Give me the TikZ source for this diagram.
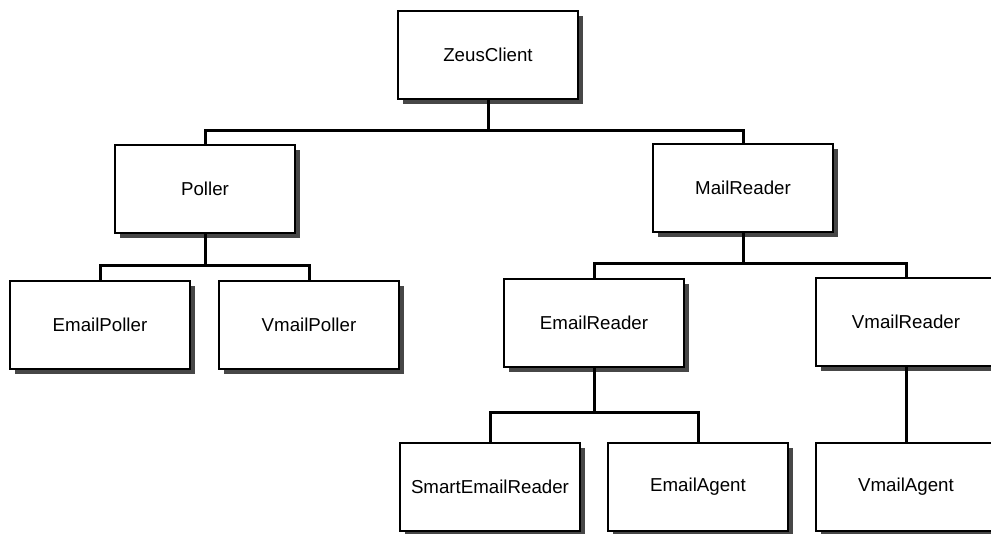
\documentclass[tikz,border=0pt]{standalone}
\usepackage{fontspec}
\setmainfont{Liberation Sans}
\usepackage{tikz}
\usetikzlibrary{shadows}

\begin{document}
\begin{tikzpicture}[x=1pt, y=-1pt,
    cls/.style={draw, line width=1.4pt, fill=white, inner sep=0pt,
      minimum width=180pt, minimum height=88pt,
      font=\fontsize{18.7}{20}\selectfont,
      drop shadow={shadow xshift=5pt, shadow yshift=-5pt, fill=black!72, opacity=1}},
    link/.style={line width=3pt}]
  \useasboundingbox (0,0) rectangle (991,534);

  \node[cls] (zeus)  at (488, 55)  {ZeusClient};
  \node[cls] (poll)  at (205, 189) {Poller};
  \node[cls] (mail)  at (743, 188) {MailReader};
  \node[cls] (epoll) at (100, 325) {EmailPoller};
  \node[cls] (vpoll) at (309, 325) {VmailPoller};
  \node[cls] (eread) at (594, 323) {EmailReader};
  \node[cls] (vread) at (906, 322) {VmailReader};
  \node[cls] (smart) at (490, 487) {SmartEmailReader};
  \node[cls] (eagt)  at (698, 487) {EmailAgent};
  \node[cls] (vagt)  at (906, 487) {VmailAgent};

  % top level
  \draw[link] (zeus.south) -- ++(0,31) -| (poll.north);
  \draw[link] (zeus.south) -- ++(0,31) -| (mail.north);
  % pollers
  \draw[link] (poll.south) -- ++(0,32) -| (epoll.north);
  \draw[link] (poll.south) -- ++(0,32) -| (vpoll.north);
  % readers
  \draw[link] (mail.south) -- ++(0,31) -| (eread.north);
  \draw[link] (mail.south) -- ++(0,31) -| (vread.north);
  \draw[link] (eread.south) -- ++(0,45) -| (smart.north);
  \draw[link] (eread.south) -- ++(0,45) -| (eagt.north);
  \draw[link] (vread.south) -- (vagt.north);
\end{tikzpicture}
\end{document}
